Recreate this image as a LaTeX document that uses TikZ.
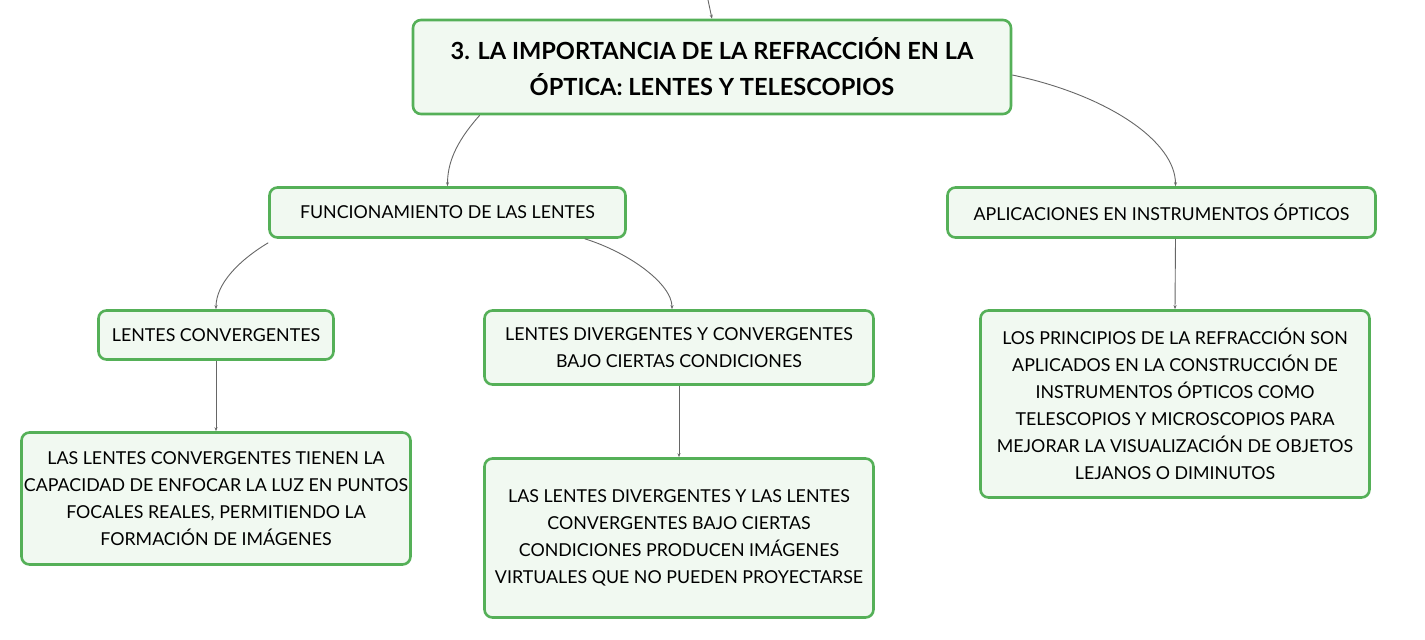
\documentclass[tikz,border=0pt]{standalone}
\usepackage{fontspec}
\setmainfont{Lato}
\usetikzlibrary{arrows.meta}
\definecolor{boxline}{HTML}{55B058}
\definecolor{boxfill}{HTML}{F1F9F1}
\definecolor{conn}{HTML}{666666}
\tikzset{
  box/.style={rectangle, rounded corners=8pt, draw=boxline, line width=2.6pt, fill=boxfill,
    align=center, inner sep=0pt, font=\fontsize{17.8}{27}\selectfont},
  titlebox/.style={box, font=\fontsize{23.6}{36}\selectfont\bfseries},
  link/.style={draw=conn, line width=0.9pt, -{Stealth[length=4pt,width=3pt]}}
}
\begin{document}
\begin{tikzpicture}[x=1pt,y=-1pt]
\useasboundingbox (0,0) rectangle (1425,640);
\node[titlebox, minimum width=598, minimum height=94] (t) at (712,67) {3. LA IMPORTANCIA DE LA REFRACCIÓN EN LA\\ÓPTICA: LENTES Y TELESCOPIOS};
\node[box, minimum width=356, minimum height=50] (f) at (447.5,212.5) {FUNCIONAMIENTO DE LAS LENTES};
\node[box, minimum width=428, minimum height=50] (a) at (1161.5,212.5) {APLICACIONES EN INSTRUMENTOS ÓPTICOS};
\node[box, minimum width=235, minimum height=49] (lc) at (216,335) {LENTES CONVERGENTES};
\node[box, minimum width=389, minimum height=74] (ld) at (679,347.5) {LENTES DIVERGENTES Y CONVERGENTES\\BAJO CIERTAS CONDICIONES};
\node[box, minimum width=389, minimum height=187] (lp) at (1175,404) {LOS PRINCIPIOS DE LA REFRACCIÓN SON\\APLICADOS EN LA CONSTRUCCIÓN DE\\INSTRUMENTOS ÓPTICOS COMO\\TELESCOPIOS Y MICROSCOPIOS PARA\\MEJORAR LA VISUALIZACIÓN DE OBJETOS\\LEJANOS O DIMINUTOS};
\node[box, minimum width=389, minimum height=132] (lct) at (216,498.5) {LAS LENTES CONVERGENTES TIENEN LA\\CAPACIDAD DE ENFOCAR LA LUZ EN PUNTOS\\FOCALES REALES, PERMITIENDO LA\\FORMACIÓN DE IMÁGENES};
\node[box, minimum width=389, minimum height=159] (ldt) at (679,538) {LAS LENTES DIVERGENTES Y LAS LENTES\\CONVERGENTES BAJO CIERTAS\\CONDICIONES PRODUCEN IMÁGENES\\VIRTUALES QUE NO PUEDEN PROYECTARSE};
\coordinate (top) at (708,0);
\draw[link] (top) -- (t.north);
\draw[link] ([xshift=68]t.south west) .. controls +(-25,28) and +(0,-22) .. (f.north);
\draw[link] ([yshift=-8]t.east) .. controls +(95,20) and +(0,-45) .. ([xshift=14]a.north);
\draw[link] ([yshift=-4]f.south west) .. controls +(-30,18) and +(0,-25) .. (lc.north);
\draw[link] ([xshift=-42]f.south east) .. controls +(45,14) and +(0,-25) .. ([xshift=-7]ld.north);
\draw[link] ([xshift=14]a.south) -- (lp.north);
\draw[link] (lc.south) -- (lct.north);
\draw[link] (ld.south) -- (ldt.north);
\end{tikzpicture}
\end{document}
